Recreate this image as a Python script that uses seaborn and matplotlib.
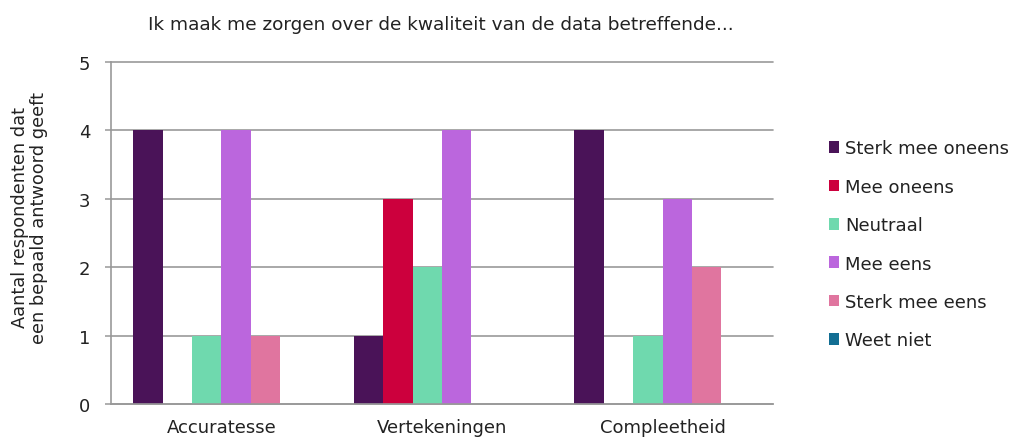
import pandas as pd
import seaborn as sns
import matplotlib.pyplot as plt

# data
categories = ['Accuratesse', 'Vertekeningen', 'Compleetheid']
answers = ['Sterk mee oneens', 'Mee oneens', 'Neutraal', 'Mee eens', 'Sterk mee eens', 'Weet niet']
sterk_mee_oneens = [4, 1, 4]
mee_oneens = [0, 3, 0]
neutraal = [1, 2, 1]
mee_eens = [4, 4, 3]
sterk_mee_eens = [1, 0, 2]
weet_niet = [0, 0, 0]
colors = ['#4A1358', '#CC003D', '#6FD9AE', '#BB66DD', '#E0759F', '#126E93']

series = [sterk_mee_oneens, mee_oneens, neutraal, mee_eens, sterk_mee_eens, weet_niet]
rows = []
for ans, vals in zip(answers, series):
    for cat, v in zip(categories, vals):
        rows.append({'categorie': cat, 'antwoord': ans, 'aantal': v})
df = pd.DataFrame(rows)

sns.set_style('white')
plt.rcParams['font.family'] = ['DejaVu Sans']

fig = plt.figure(figsize=(10.16, 4.39), dpi=100)
ax = fig.add_axes([0.1093, 0.0774, 0.6515, 0.7791])

sns.barplot(
    data=df, x='categorie', y='aantal', hue='antwoord',
    order=categories, hue_order=answers, palette=colors, saturation=1,
    width=0.8, linewidth=0, edgecolor='none', ax=ax
)

ax.set_ylim(0, 5)
ax.set_yticks(range(0, 6))
ax.set_xlim(-0.5, 2.5)
ax.grid(axis='y', color='#999999', linewidth=1.2)
ax.set_axisbelow(True)
for gl in ax.yaxis.get_gridlines():
    gl.set_clip_on(False)
for s in ['top', 'right']:
    ax.spines[s].set_visible(False)
for s in ['left', 'bottom']:
    ax.spines[s].set_color('#999999')
    ax.spines[s].set_linewidth(1.2)

ax.tick_params(axis='y', length=4, width=1.1, color='#999999', labelsize=13,
               labelcolor='#222222', pad=11, left=True)
ax.tick_params(axis='x', length=0, labelsize=13, labelcolor='#222222', pad=10)
ax.set_xlabel('')
ax.set_ylabel('Aantal respondenten dat\neen bepaald antwoord geeft',
              fontsize=12.8, color='#222222', linespacing=1.05)
ax.yaxis.set_label_coords(-0.095, 0.547)

fig.text(0.434, 0.944, 'Ik maak me zorgen over de kwaliteit van de data betreffende...',
         ha='center', va='center', fontsize=13.3, color='#222222')

leg = ax.legend(
    loc='upper left', bbox_to_anchor=(1.073, 0.795), frameon=False,
    fontsize=13, handlelength=0.6, handleheight=0.6, handletextpad=0.3,
    labelspacing=1.13, borderaxespad=0
)
for t in leg.get_texts():
    t.set_color('#222222')

plt.savefig('out.png', dpi=100)
